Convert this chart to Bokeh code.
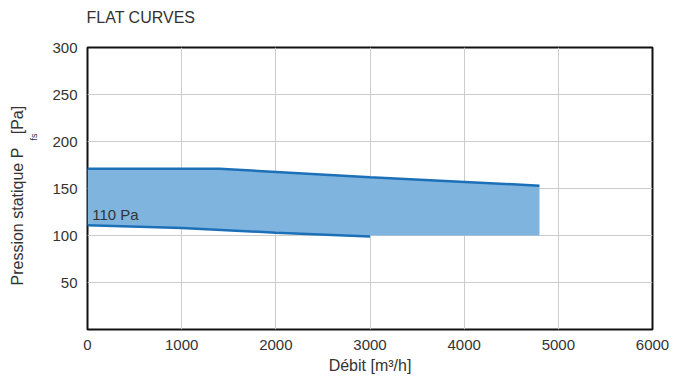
from bokeh.plotting import figure
from bokeh.models import Range1d, Label, FixedTicker, Title
from bokeh.embed import file_html
from bokeh.resources import INLINE

# Data
upper_x = [0, 1400, 3000, 4800]
upper_y = [171, 171, 162, 153]
lower_x = [0, 1000, 2000, 3000]
lower_y = [111, 108, 103, 99]
floor_p = 100          # bottom of the band beyond the lower curve
x_ticks = [0, 1000, 2000, 3000, 4000, 5000, 6000]
y_ticks = [50, 100, 150, 200, 250, 300]
curve_label = "110 Pa"

FONT = "Liberation Sans"
TXT = "#333333"
FILL = "#7fb4de"
LINE = "#1c70b8"

p = figure(width=672, height=385, output_backend="svg", toolbar_location=None,
           x_range=Range1d(0, 6000), y_range=Range1d(0, 300),
           min_border_left=87, min_border_right=20, min_border_top=47, min_border_bottom=56)

# band
px = upper_x + [upper_x[-1], lower_x[-1]] + lower_x[::-1]
py = upper_y + [floor_p, floor_p] + lower_y[::-1]
p.patch(px, py, fill_color=FILL, line_color=None, fill_alpha=1.0)
p.line(upper_x, upper_y, line_color=LINE, line_width=2.5)
p.line(lower_x, lower_y, line_color=LINE, line_width=2.5)

p.add_layout(Label(x=50, y=122, text=curve_label, text_font=FONT, text_font_size="15px",
                   text_color=TXT, text_baseline="middle", text_align="left"))

# axes styling
p.xaxis.ticker = FixedTicker(ticks=x_ticks)
p.yaxis.ticker = FixedTicker(ticks=y_ticks)
for ax in (p.xaxis[0], p.yaxis[0]):
    ax.axis_line_color = None
    ax.major_tick_line_color = None
    ax.minor_tick_line_color = None
    ax.major_label_text_font = FONT
    ax.major_label_text_color = TXT
    ax.major_label_text_font_size = "15px"
    ax.major_label_standoff = 4
p.xaxis.axis_label = "Débit [m³/h]"
p.xaxis.axis_label_text_font = FONT
p.xaxis.axis_label_text_font_size = "16px"
p.xaxis.axis_label_text_font_style = "normal"
p.xaxis.axis_label_text_color = TXT
p.xaxis.axis_label_standoff = 4

p.xgrid.ticker = FixedTicker(ticks=x_ticks)
p.ygrid.ticker = FixedTicker(ticks=y_ticks)
p.grid.grid_line_color = "#cccccc"
p.grid.grid_line_width = 1

p.outline_line_color = "#111111"
p.outline_line_width = 2
p.background_fill_color = "white"
p.border_fill_color = "white"

# spacer between frame and title
spacer = Title(text=" ", text_font_size="1px", standoff=12)
p.add_layout(spacer, "above")

# title
p.title.text = "FLAT CURVES"
p.title.align = "left"
p.title.offset = -1
p.title.vertical_align = "top"
p.title.text_font = FONT
p.title.text_font_size = "16px"
p.title.text_font_style = "normal"
p.title.text_color = TXT
p.title.standoff = 10

# y axis label: main text plus subscript, as titles in the left panel
sub = Title(text="fs", align="left", offset=189, text_font=FONT, text_font_size="9px",
            text_font_style="normal", text_color=TXT, standoff=21)
main = Title(text="Pression statique P\u00a0\u00a0\u00a0[Pa]", align="left", offset=44,
             text_font=FONT, text_font_size="16px", text_font_style="normal",
             text_color=TXT, standoff=-18)
p.add_layout(sub, "left")
p.add_layout(main, "left")

open("out.html", "w").write(file_html(p, INLINE))
